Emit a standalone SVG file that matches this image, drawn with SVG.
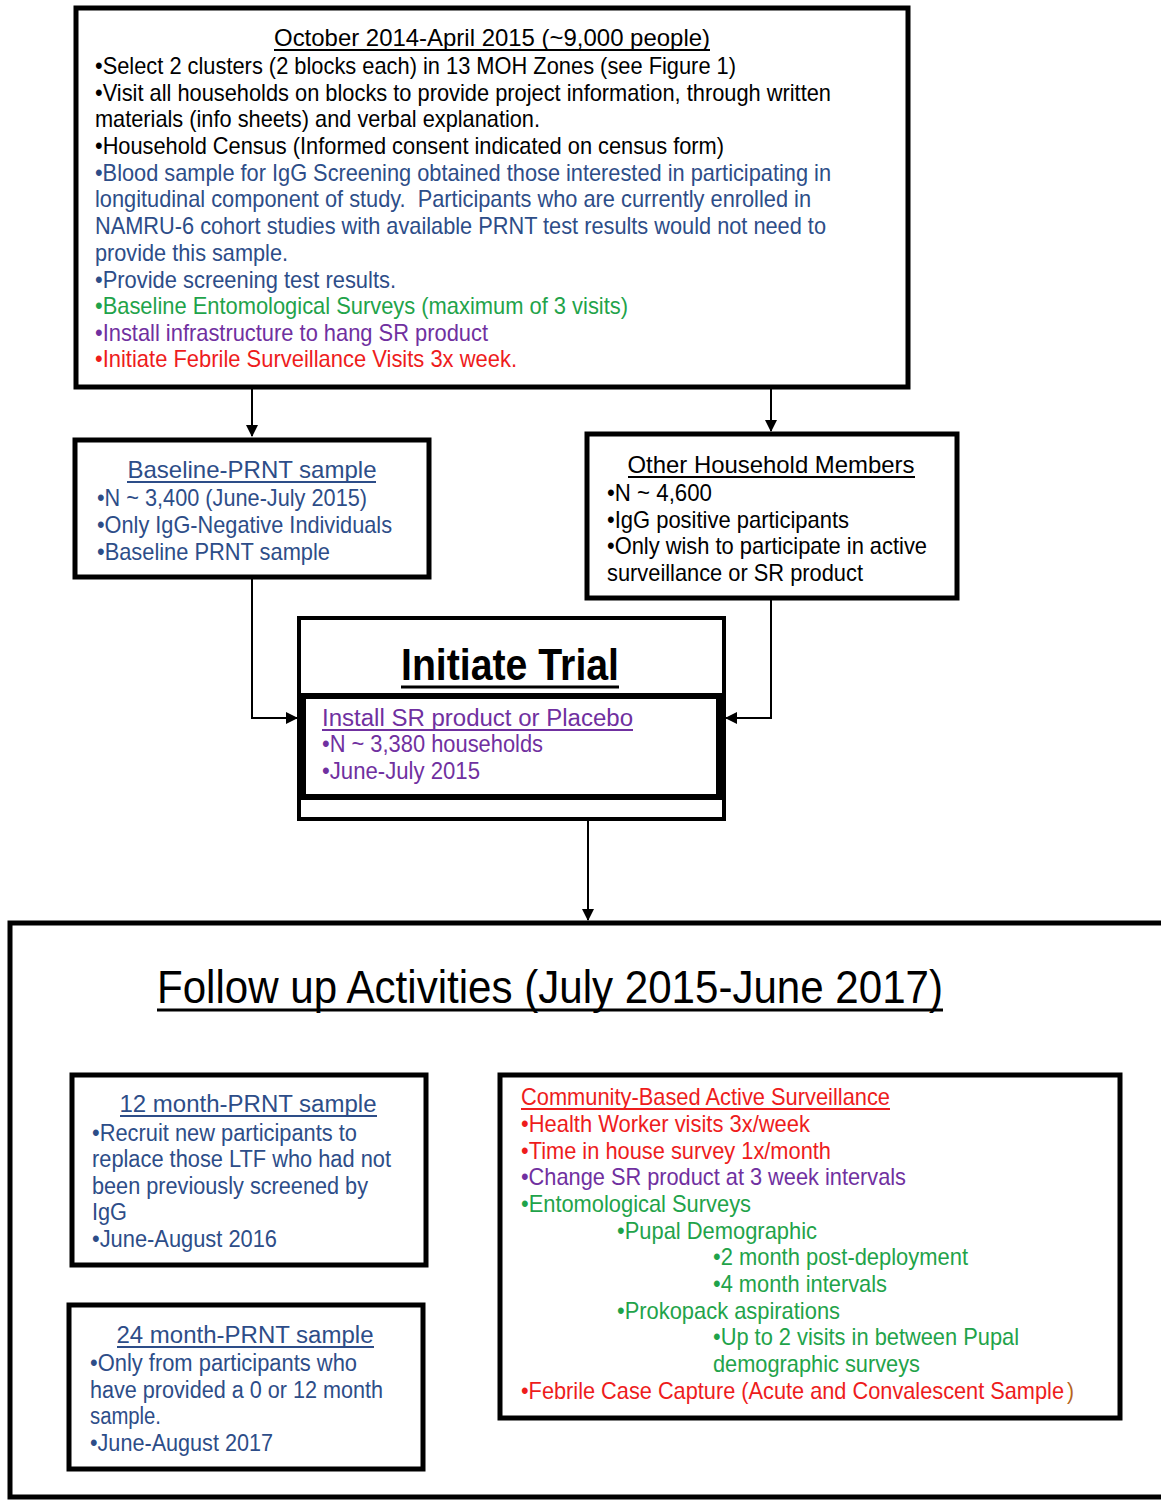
<svg xmlns="http://www.w3.org/2000/svg" width="1161" height="1500" viewBox="0 0 1161 1500">
<defs>
<style>
text{font-family:"Liberation Sans Narrow","Arial Narrow","Liberation Sans",Arial,sans-serif;font-size:24px;fill:#000}
.w{font-family:"Liberation Sans",Arial,sans-serif;font-size:23px}
.k{fill:#000}.b{fill:#2d4d88}.g{fill:#1fa34a}.p{fill:#7030a0}.r{fill:#ee1c1c}.o{fill:#b5651d}
.ul{stroke-width:1.8;fill:none}
.box{fill:#fff;stroke:#000;stroke-width:5}
.conn{stroke:#000;stroke-width:2;fill:none}
</style>
<marker id="ah" markerWidth="12" markerHeight="12" refX="11" refY="6" orient="auto" markerUnits="userSpaceOnUse">
<path d="M0,0 L12,6 L0,12 Z" fill="#000"/>
</marker>
</defs>
<rect width="1161" height="1500" fill="#fff"/>

<g id="connectors">
<path class="conn" d="M252,388 V436" marker-end="url(#ah)"/>
<path class="conn" d="M771,388 V431" marker-end="url(#ah)"/>
<path class="conn" d="M252,578 V718 H297" marker-end="url(#ah)"/>
<path class="conn" d="M771,599 V718 H726" marker-end="url(#ah)"/>
<path class="conn" d="M588,821 V920" marker-end="url(#ah)"/>
</g>

<g id="screening">
<rect class="box" x="76" y="8" width="832" height="379"/>
<text class="k" x="492" y="46" text-anchor="middle" textLength="436" lengthAdjust="spacingAndGlyphs">October 2014-April 2015 (~9,000 people)</text>
<line class="ul" x1="274" y1="50" x2="710" y2="50" stroke="#000"/>
<text class="k" x="95" y="74" textLength="641" lengthAdjust="spacingAndGlyphs">•Select 2 clusters (2 blocks each) in 13 MOH Zones (see Figure 1)</text>
<text class="k" x="95" y="101" textLength="736" lengthAdjust="spacingAndGlyphs">•Visit all households on blocks to provide project information, through written</text>
<text class="k" x="95" y="127" textLength="445" lengthAdjust="spacingAndGlyphs">materials (info sheets) and verbal explanation.</text>
<text class="k" x="95" y="154" textLength="629" lengthAdjust="spacingAndGlyphs">•Household Census (Informed consent indicated on census form)</text>
<text class="b" x="95" y="181" textLength="736" lengthAdjust="spacingAndGlyphs">•Blood sample for IgG Screening obtained those interested in participating in</text>
<text class="b" x="95" y="207" textLength="716" lengthAdjust="spacingAndGlyphs" xml:space="preserve">longitudinal component of study.  Participants who are currently enrolled in</text>
<text class="b" x="95" y="234" textLength="731" lengthAdjust="spacingAndGlyphs">NAMRU-6 cohort studies with available PRNT test results would not need to</text>
<text class="b" x="95" y="261" textLength="193" lengthAdjust="spacingAndGlyphs">provide this sample.</text>
<text class="b" x="95" y="288" textLength="301" lengthAdjust="spacingAndGlyphs">•Provide screening test results.</text>
<text class="g" x="95" y="314" textLength="533" lengthAdjust="spacingAndGlyphs">•Baseline Entomological Surveys (maximum of 3 visits)</text>
<text class="p" x="95" y="341" textLength="393" lengthAdjust="spacingAndGlyphs">•Install infrastructure to hang SR product</text>
<text class="r" x="95" y="367" textLength="422" lengthAdjust="spacingAndGlyphs">•Initiate Febrile Surveillance Visits 3x week.</text>
</g>

<g id="baseline-prnt">
<rect class="box" x="75" y="440" width="354" height="137"/>
<text class="b" x="252" y="478" text-anchor="middle" textLength="249" lengthAdjust="spacingAndGlyphs">Baseline-PRNT sample</text>
<line class="ul" x1="127" y1="482" x2="376" y2="482" stroke="#2d4d88"/>
<text class="b" x="97" y="506" textLength="270" lengthAdjust="spacingAndGlyphs">•N ~ 3,400 (June-July 2015)</text>
<text class="b" x="97" y="533" textLength="295" lengthAdjust="spacingAndGlyphs">•Only IgG-Negative Individuals</text>
<text class="b" x="97" y="560" textLength="233" lengthAdjust="spacingAndGlyphs">•Baseline PRNT sample</text>
</g>

<g id="other-household">
<rect class="box" x="587" y="434" width="370" height="164"/>
<text class="k" x="771" y="473" text-anchor="middle" textLength="287" lengthAdjust="spacingAndGlyphs">Other Household Members</text>
<line class="ul" x1="628" y1="477" x2="915" y2="477" stroke="#000"/>
<text class="k" x="607" y="501" textLength="105" lengthAdjust="spacingAndGlyphs">•N ~ 4,600</text>
<text class="k" x="607" y="528" textLength="242" lengthAdjust="spacingAndGlyphs">•IgG positive participants</text>
<text class="k" x="607" y="554" textLength="320" lengthAdjust="spacingAndGlyphs">•Only wish to participate in active</text>
<text class="k" x="607" y="581" textLength="256" lengthAdjust="spacingAndGlyphs">surveillance or SR product</text>
</g>

<g id="initiate-trial">
<rect x="299" y="618" width="425" height="201" fill="#fff" stroke="#000" stroke-width="4"/>
<rect x="303" y="696" width="416" height="101" fill="#fff" stroke="#000" stroke-width="6"/>
<text class="k" x="510" y="680" text-anchor="middle" textLength="218" lengthAdjust="spacingAndGlyphs" style="font-family:'Liberation Sans',Arial,sans-serif;font-size:44px;font-weight:bold">Initiate Trial</text>
<line x1="401" y1="687" x2="619" y2="687" stroke="#000" stroke-width="3"/>
<text class="p w" x="322" y="726" textLength="311" lengthAdjust="spacingAndGlyphs">Install SR product or Placebo</text>
<line class="ul" x1="322" y1="730" x2="633" y2="730" stroke="#7030a0"/>
<text class="p w" x="322" y="752" textLength="221" lengthAdjust="spacingAndGlyphs">•N ~ 3,380 households</text>
<text class="p w" x="322" y="779" textLength="158" lengthAdjust="spacingAndGlyphs">•June-July 2015</text>
</g>

<g id="follow-up">
<rect class="box" x="10" y="923" width="1160" height="574"/>
<text class="k" x="550" y="1003" text-anchor="middle" textLength="786" lengthAdjust="spacingAndGlyphs" style="font-size:46px">Follow up Activities (July 2015-June 2017)</text>
<line x1="157" y1="1010" x2="943" y2="1010" stroke="#000" stroke-width="3"/>
</g>

<g id="prnt-12">
<rect class="box" x="72" y="1075" width="354" height="190"/>
<text class="b w" x="248" y="1112" text-anchor="middle" textLength="257" lengthAdjust="spacingAndGlyphs">12 month-PRNT sample</text>
<line class="ul" x1="120" y1="1116" x2="377" y2="1116" stroke="#2d4d88"/>
<text class="b w" x="92" y="1141" textLength="265" lengthAdjust="spacingAndGlyphs">•Recruit new participants to</text>
<text class="b w" x="92" y="1167" textLength="299" lengthAdjust="spacingAndGlyphs">replace those LTF who had not</text>
<text class="b w" x="92" y="1194" textLength="276" lengthAdjust="spacingAndGlyphs">been previously screened by</text>
<text class="b w" x="92" y="1220" textLength="35" lengthAdjust="spacingAndGlyphs">IgG</text>
<text class="b w" x="92" y="1247" textLength="185" lengthAdjust="spacingAndGlyphs">•June-August 2016</text>
</g>

<g id="prnt-24">
<rect class="box" x="69" y="1305" width="354" height="164"/>
<text class="b w" x="245" y="1343" text-anchor="middle" textLength="257" lengthAdjust="spacingAndGlyphs">24 month-PRNT sample</text>
<line class="ul" x1="117" y1="1347" x2="374" y2="1347" stroke="#2d4d88"/>
<text class="b w" x="90" y="1371" textLength="267" lengthAdjust="spacingAndGlyphs">•Only from participants who</text>
<text class="b w" x="90" y="1398" textLength="293" lengthAdjust="spacingAndGlyphs">have provided a 0 or 12 month</text>
<text class="b w" x="90" y="1424" textLength="71" lengthAdjust="spacingAndGlyphs">sample.</text>
<text class="b w" x="90" y="1451" textLength="183" lengthAdjust="spacingAndGlyphs">•June-August 2017</text>
</g>

<g id="active-surveillance">
<rect class="box" x="500" y="1075" width="620" height="343"/>
<text class="r" x="521" y="1105" textLength="369" lengthAdjust="spacingAndGlyphs">Community-Based Active Surveillance</text>
<line class="ul" x1="521" y1="1109" x2="890" y2="1109" stroke="#ee1c1c"/>
<text class="r" x="521" y="1132" textLength="289" lengthAdjust="spacingAndGlyphs">•Health Worker visits 3x/week</text>
<text class="r" x="521" y="1159" textLength="310" lengthAdjust="spacingAndGlyphs">•Time in house survey 1x/month</text>
<text class="p" x="521" y="1185" textLength="385" lengthAdjust="spacingAndGlyphs">•Change SR product at 3 week intervals</text>
<text class="g" x="521" y="1212" textLength="230" lengthAdjust="spacingAndGlyphs">•Entomological Surveys</text>
<text class="g" x="617" y="1239" textLength="200" lengthAdjust="spacingAndGlyphs">•Pupal Demographic</text>
<text class="g" x="713" y="1265" textLength="255" lengthAdjust="spacingAndGlyphs">•2 month post-deployment</text>
<text class="g" x="713" y="1292" textLength="174" lengthAdjust="spacingAndGlyphs">•4 month intervals</text>
<text class="g" x="617" y="1319" textLength="223" lengthAdjust="spacingAndGlyphs">•Prokopack aspirations</text>
<text class="g" x="713" y="1345" textLength="306" lengthAdjust="spacingAndGlyphs">•Up to 2 visits in between Pupal</text>
<text class="g" x="713" y="1372" textLength="207" lengthAdjust="spacingAndGlyphs">demographic surveys</text>
<text class="r" x="521" y="1399" textLength="543" lengthAdjust="spacingAndGlyphs">•Febrile Case Capture (Acute and Convalescent Sample</text>
<text class="o" x="1067" y="1399" textLength="7" lengthAdjust="spacingAndGlyphs">)</text>
</g>
</svg>
